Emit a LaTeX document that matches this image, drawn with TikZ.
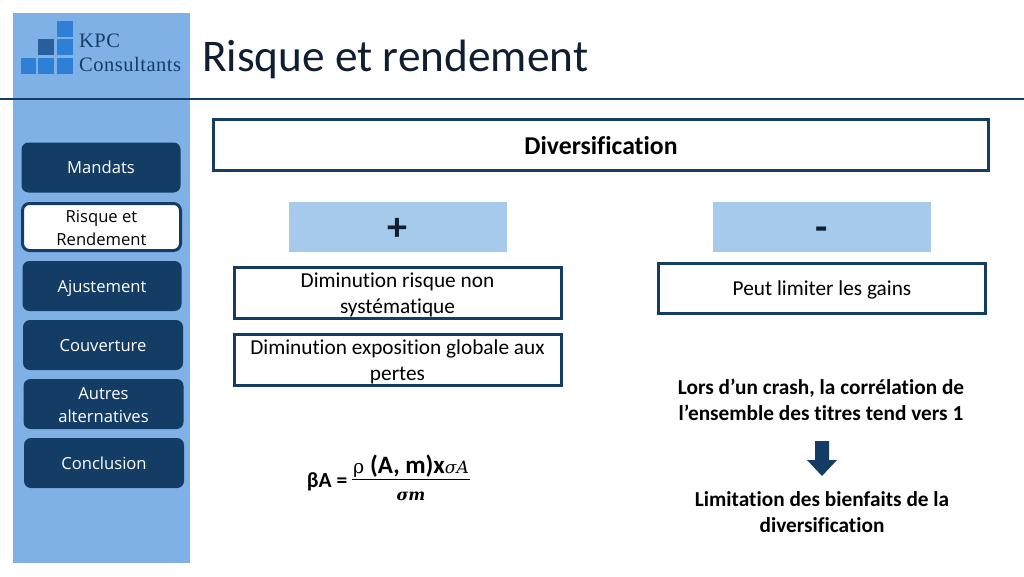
\documentclass[tikz,border=0pt]{standalone}
\usepackage{fontspec}
\setmainfont[Ligatures=CommonOff]{Carlito}
\newfontfamily\navfont{Open Sans}
\newfontfamily\logofont[LetterSpace=2.5]{Liberation Serif}
\newfontfamily\symfont{DejaVu Serif}
\definecolor{navy}{HTML}{143D66}
\definecolor{side}{HTML}{7FB0E6}
\definecolor{plusbox}{HTML}{A6CAEC}
\definecolor{logoblue}{HTML}{2E7FD6}
\definecolor{logodark}{HTML}{2A5F9E}
\definecolor{ink}{HTML}{0F1E30}
\tikzset{
  x=1pt,y=-1pt,
  navbox/.style={fill=navy,rounded corners=7pt,minimum width=159pt,minimum height=50pt,inner sep=0pt,text=white,align=center,text height=16pt,text depth=4pt,font=\navfont\fontsize{16.6}{23}\selectfont},
  navcur/.style={fill=white,draw=navy,line width=3pt,rounded corners=7pt,minimum width=158pt,minimum height=47pt,inner sep=0pt,text=black,align=center,text height=40.5pt,text depth=4pt,font=\navfont\fontsize{16.6}{23}\selectfont},
  framebox/.style={draw=navy,line width=3pt,fill=white,inner sep=0pt,align=center,text=black,text height=19pt,text depth=5pt,font=\fontsize{21.3}{26}\selectfont},
  twolines/.style={text height=46pt,text depth=5pt},
  signbox/.style={fill=plusbox,minimum width=218pt,minimum height=50pt,inner sep=0pt,text=ink,text height=26pt,text depth=0pt,font=\bfseries\fontsize{40}{40}\selectfont},
  boldtext/.style={inner sep=0pt,align=center,text=black,font=\bfseries\fontsize{21.3}{26}\selectfont},
  logocell/.style={fill=logoblue,minimum size=16pt,inner sep=0pt},
}
\begin{document}
\begin{tikzpicture}
\useasboundingbox (0,0) rectangle (1024,576);
\fill[white] (0,0) rectangle (1024,576);
\fill[side] (13,13) rectangle (190,563);
\node[logocell] (c1) at (64.5,29) {};
\node[logocell] (c2) at (64.5,47) {};
\node[logocell,fill=logodark] (c3) at (46,47) {};
\node[logocell] (c4) at (64.5,65.5) {};
\node[logocell] (c5) at (46,65.5) {};
\node[logocell,minimum width=15pt] (c6) at (28,65.5) {};
\node[anchor=west,inner sep=0pt,align=left,text=navy,font=\logofont\fontsize{20.5}{23.5}\selectfont] (logo) at (79,53) {KPC\\Consultants};
\node[anchor=base west,inner sep=0pt,text=ink,font=\fontsize{45.3}{45}\selectfont] (title) at (202,71) {Risque et rendement};
\draw[navy,line width=2.6pt] (0,99) -- (1024,99);
\node[navbox] (n1) at (101,167.5) {Mandats};
\node[navcur] (n2) at (101.5,227) {Risque et\\Rendement};
\node[navbox] (n3) at (102,286) {Ajustement};
\node[navbox,minimum width=160pt] (n4) at (103,345) {Couverture};
\node[navbox,minimum width=160pt,text height=40.5pt] (n5) at (103.5,404) {Autres\\alternatives};
\node[navbox,minimum width=160pt] (n6) at (104,463) {Conclusion};
\node[framebox,minimum width=775pt,minimum height=51pt,font=\bfseries\fontsize{25.7}{28}\selectfont,text height=24pt,text depth=5pt] (div) at (601,145) {Diversification};
\node[signbox] (plus) at (397.5,227) {+};
\node[signbox] (minus) at (822,227) {-};
\node[framebox,twolines,minimum width=327pt,minimum height=49pt] (a1) at (397.5,292.5) {Diminution risque non\\systématique};
\node[framebox,twolines,minimum width=327pt,minimum height=50pt] (a2) at (397.5,360) {Diminution exposition globale aux\\pertes};
\node[framebox,minimum width=327pt,minimum height=50pt] (b1) at (822,288) {Peut limiter les gains};
\node[boldtext] (t1) at (821,400) {Lors d’un crash, la corrélation de\\l’ensemble des titres tend vers 1};
\fill[navy] (815,441) -- (829,441) -- (829,460) -- (837,460) -- (822,476) -- (807,460) -- (815,460) -- cycle;
\node[boldtext] (t2) at (822,512) {Limitation des bienfaits de la\\diversification};
\node[anchor=east,inner sep=0pt,text=black,font=\bfseries\fontsize{21.5}{24}\selectfont] (beta) at (347.5,482) {βA =};
\draw[black,line width=1.6pt] (352,479.5) -- (470,479.5);
\node[anchor=base,inner sep=0pt,text=black,font=\bfseries\fontsize{25}{28}\selectfont] (num) at (411,473.5) {{\symfont\mdseries\fontsize{19}{24}\selectfont ρ} (A, m)x{\symfont\itshape\mdseries\fontsize{17}{24}\selectfont σA}};
\node[anchor=base,inner sep=0pt,text=black,font=\symfont\bfseries\itshape\fontsize{16}{24}\selectfont] (den) at (411,500) {σm};
\end{tikzpicture}
\end{document}
